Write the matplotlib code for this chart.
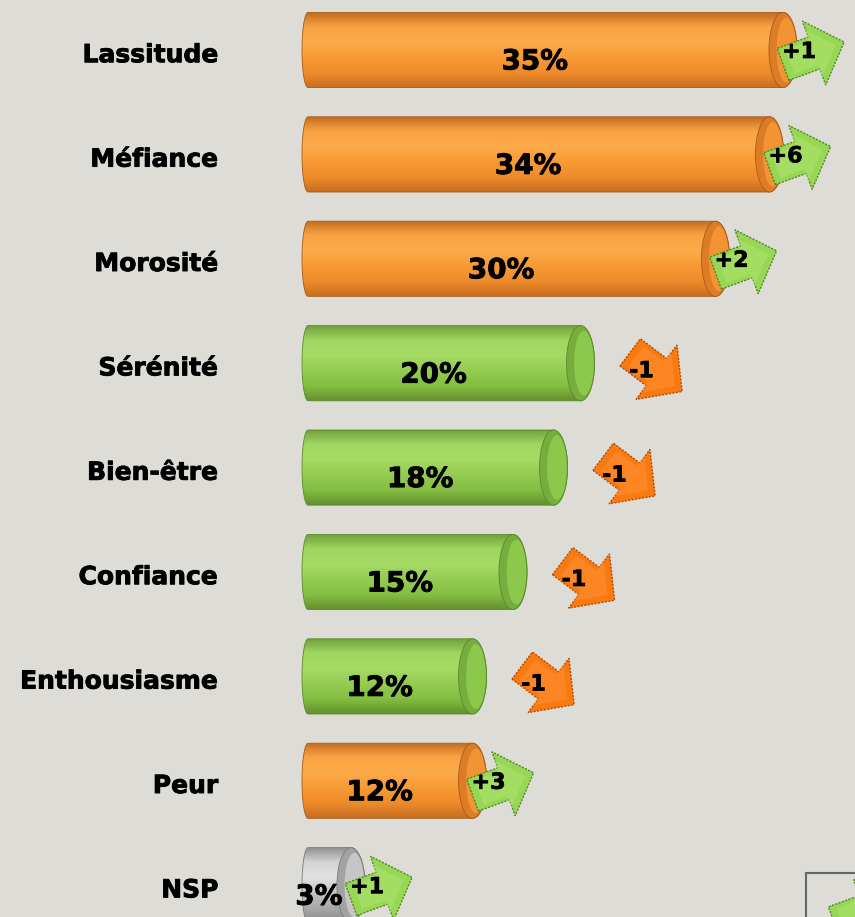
import numpy as np
import matplotlib.pyplot as plt
from matplotlib.patches import Ellipse, Polygon, Rectangle, PathPatch
from matplotlib.path import Path
from matplotlib.colors import LinearSegmentedColormap
import matplotlib.transforms as mtransforms
import matplotlib.patheffects as pe

# data
categories = ["Lassitude", "Méfiance", "Morosité", "Sérénité", "Bien-être",
              "Confiance", "Enthousiasme", "Peur", "NSP"]
values = [35, 34, 30, 20, 18, 15, 12, 12, 3]
changes = [1, 6, 2, -1, -1, -1, -1, 3, 1]
groups = ["neg", "neg", "neg", "pos", "pos", "pos", "pos", "neg", "nsp"]

bg = "#dddcd6"
bar_grad = {
    "neg": ["#c06a1e", "#f9a444", "#fcab4a", "#f79a34", "#ef8c2c", "#c86e20"],
    "pos": ["#6f9f3a", "#a0d760", "#a6db66", "#93cc50", "#84be42", "#628f2e"],
    "nsp": ["#8e8e8e", "#d4d4d4", "#e2e2e2", "#c4c4c4", "#a9a9a9", "#8a8a8a"],
}
cap_col = {
    "neg": ("#dd7c26", "#f29433", "#a85a18"),
    "pos": ("#76ad3c", "#8cc84c", "#5a8a2a"),
    "nsp": ("#a2a2a2", "#c6c6c6", "#7a7a7a"),
}

PX_X = 13.5    # pixels per percent
PX_Y = 104.4   # pixels per row
BAR_H = 0.72
CAP_R = 1.04
BODY_EXTRA = 0.63

fig = plt.figure(figsize=(8.55, 9.17), dpi=100)
fig.patch.set_facecolor(bg)
ax = fig.add_axes([0, 0, 1, 1])
ax.set_facecolor(bg)
ax.axis("off")

heavy = [pe.withStroke(linewidth=0.6, foreground="black")]


def bar_path(y, x1, h, r, lr):
    t = np.linspace(0, np.pi, 40)
    top = y - h / 2
    bot = y + h / 2
    pts = [(lr, top), (x1, top)]
    pts += list(zip(x1 + r * np.sin(t), y - h / 2 * np.cos(t)))
    pts += [(x1, bot), (lr, bot)]
    pts += list(zip(lr - lr * np.sin(t), y + h / 2 * np.cos(t)))
    pts.append((lr, top))
    return Path(pts, closed=True)


# arrow pointing right, origin at middle of the head base (pixels)
arrow_shape = np.array([[-33, -17], [0, -17], [0, -34], [32, 0],
                        [0, 34], [0, 17], [-33, 17]], dtype=float)


def draw_arrow(xd, yd, ang, fc, hc, ec, trans_base):
    tr = mtransforms.Affine2D().rotate_deg(ang) + mtransforms.ScaledTranslation(xd, yd, trans_base)
    ax.add_patch(Polygon(arrow_shape, closed=True, transform=tr, facecolor=fc,
                         edgecolor=ec, lw=1.0, linestyle=(0, (1.5, 1)), zorder=5, clip_on=False))
    inner = arrow_shape * 0.75 + np.array([-1, 0])
    ax.add_patch(Polygon(inner, closed=True, transform=tr, facecolor=hc,
                         lw=0, alpha=0.4, zorder=5, clip_on=False))


for i, (cat, v, ch, g) in enumerate(zip(categories, values, changes, groups)):
    y = i
    x1 = v + BODY_EXTRA
    cmap = LinearSegmentedColormap.from_list(g, bar_grad[g])
    path = bar_path(y, x1, BAR_H, CAP_R, 0.45)
    patch = PathPatch(path, facecolor="none", edgecolor=cap_col[g][2], lw=0.6, zorder=3)
    ax.add_patch(patch)
    grad = np.linspace(0, 1, 256).reshape(-1, 1)
    im = ax.imshow(grad, cmap=cmap, extent=(-0.1, x1 + CAP_R + 0.1, y + BAR_H / 2, y - BAR_H / 2),
                   origin="upper", aspect="auto", zorder=2)
    im.set_clip_path(patch)

    face, light, edge = cap_col[g]
    ax.add_patch(Ellipse((x1, y), 2 * CAP_R, BAR_H, facecolor=face, edgecolor=edge, lw=0.6, zorder=4))
    ax.add_patch(Ellipse((x1 + 0.25, y), 2 * CAP_R * 0.7, BAR_H * 0.86, facecolor=light, lw=0, zorder=4))

    ax.text(v / 2 - 0.25, y + 0.11, f"{v}%", ha="center", va="center",
            fontsize=20, fontweight="bold", color="black", zorder=6, path_effects=heavy)
    ax.text(-6.2, y + 0.05, cat, ha="right", va="center",
            fontsize=18, fontweight="bold", color="black", path_effects=heavy)

    # evolution arrow
    end = v + 1.67
    if ch > 0:
        xc = end + 17 / PX_X
        yc = y + 3 / PX_Y
        ang = 20
        fc, hc, ec = "#98d655", "#b6ec7a", "#4f8a22"
        lab = f"+{ch}"
    else:
        xc = end + 62 / PX_X
        yc = y + 9 / PX_Y
        ang = -37
        fc, hc, ec = "#fa7a12", "#ff9a3e", "#b84a00"
        lab = f"{ch}"
    draw_arrow(xc, yc, ang, fc, hc, ec, ax.transData)
    ax.text(xc - 15 / PX_X, yc - 1 / PX_Y, lab, ha="center", va="center",
            fontsize=16, fontweight="bold", color="black", zorder=7,
            path_effects=[pe.withStroke(linewidth=0.5, foreground="black")])

# partial legend box at bottom right
ax.add_patch(Rectangle((0.943, -0.01), 0.1, 0.058, transform=ax.transAxes,
                       facecolor="none", edgecolor="#666666", lw=1.5, clip_on=False))
draw_arrow(1.012, 0.006, 20, "#98d655", "#b6ec7a", "#4f8a22", ax.transAxes)

ax.set_xlim(-302 / PX_X, (855 - 302) / PX_X)
ax.set_ylim((917 - 50) / PX_Y, -50 / PX_Y)

fig.savefig("out.png", dpi=100, facecolor=bg)
